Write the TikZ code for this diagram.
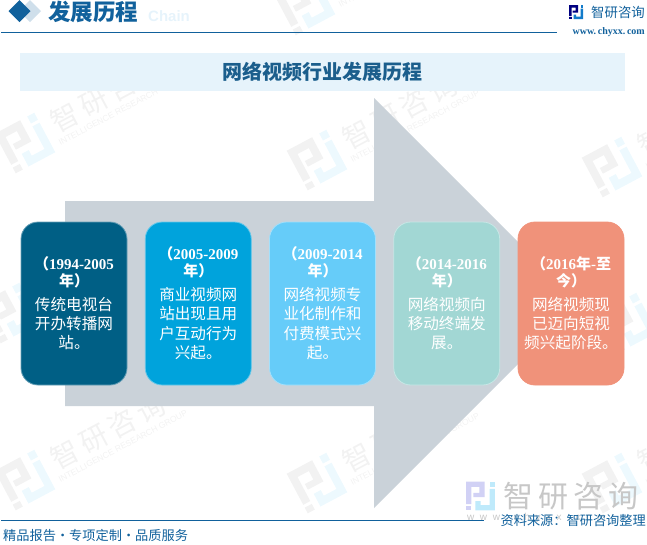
\documentclass[tikz,border=0pt]{standalone}
\usepackage{fontspec}
\usepackage{xcolor}
\setmainfont{Liberation Serif}
\setsansfont{Liberation Sans}
\newfontfamily\cjk{Noto Sans CJK SC}
\definecolor{headblue}{HTML}{11619C}
\definecolor{titleblue}{HTML}{1B5E8C}
\definecolor{bannerblue}{HTML}{E6F3FB}
\definecolor{arrowgrey}{HTML}{CAD2D9}
\definecolor{cardA}{HTML}{005F85}
\definecolor{cardB}{HTML}{00A3DC}
\definecolor{cardC}{HTML}{66CCF9}
\definecolor{cardD}{HTML}{A2D7D4}
\definecolor{cardE}{HTML}{F0927A}
\newcommand{\yearfont}{\fontsize{15}{17}\selectfont\bfseries}
\newcommand{\bodyfont}{\fontsize{15.6}{19.4}\selectfont\mdseries\cjk}
\newcommand{\cn}[1]{{\cjk #1}}
\tikzset{
  pics/logomark/.style 2 args={code={
    \fill[#1] (-7,-7) -- (2,-7) -- (2,0.5) -- (-3.5,0.5) -- (-3.5,-1.5) -- (-0.5,-1.5) -- (-0.5,-4.5) -- (-4.5,-4.5) -- (-4.5,4) -- (-7,4) -- cycle;
    \fill[#1] (-7,5) rectangle (-4.5,7);
    \fill[#2] (4.5,-7) rectangle (7,-4.5);
    \fill[#2] (4.5,-3.5) -- (7,-3.5) -- (7,7) -- (-2.5,7) -- (-2.5,2.5) -- (0,2.5) -- (0,4.5) -- (4.5,4.5) -- cycle;
  }}
}

\begin{document}
\begin{tikzpicture}[x=1pt, y=-1pt, node distance=124.25pt]
        % Define a style for the nodes
        \tikzstyle{card} = [rectangle, rounded corners=17pt, text=white, align=center, text width=95pt, inner sep=5.5pt, minimum height=163pt, line width=0.8pt]
        \tikzstyle{headline} = [text=headblue, inner sep=0pt]

        \useasboundingbox (0,0) rectangle (647,544);

        % Watermarks
        \foreach \wx/\wy in {25/143, 317/160, 612/167, 10/313, 317/320, 627/323, 25/480, 317/483, 612/483, 305/5} {
            \begin{scope}[shift={(\wx,\wy)}, rotate=28, transform shape]
                \pic[scale=3.2] {logomark={black!5}{cyan!7}};
                \node[text=black!5, inner sep=0pt, font=\cjk\fontsize{28}{28}\selectfont] at (96,-4) {智\,研\,咨\,询};
                \node[text=black!5, inner sep=0pt, anchor=west, font=\sffamily\fontsize{8.5}{9}\selectfont] at (30,16) {INTELLIGENCE RESEARCH GROUP};
            \end{scope}
        }

        % Big arrow
        \fill[arrowgrey] (65,201) -- (374,201) -- (374,98) -- (579,303) -- (374,508) -- (374,406) -- (65,406) -- cycle;

        % Cards
        \node (card1) [card, draw=cardA!60!white, fill=cardA, minimum width=106pt] at (74,303.5) {\yearfont\cn{（}1994-2005\\\cn{年）}\\[4pt]\bodyfont 传统电视台\\开办转播网\\站。\par};
        \node (card2) [card, draw=cardB!60!white, fill=cardB, right of=card1] {\yearfont\cn{（}2005-2009\\\cn{年）}\\[4pt]\bodyfont 商业视频网\\站出现且用\\户互动行为\\兴起。\par};
        \node (card3) [card, draw=cardC!60!white, fill=cardC, right of=card2] {\yearfont\cn{（}2009-2014\\\cn{年）}\\[4pt]\bodyfont 网络视频专\\业化制作和\\付费模式兴\\起。\par};
        \node (card4) [card, draw=cardD!60!white, fill=cardD, right of=card3] {\yearfont\cn{（}2014-2016\\\cn{年）}\\[4pt]\bodyfont 网络视频向\\移动终端发\\展。\par};
        \node (card5) [card, draw=cardE, fill=cardE, right of=card4] {\yearfont\cn{（}2016\cn{年}-\cn{至}\\\cn{今）}\\[4pt]\bodyfont 网络视频现\\已迈向短视\\频兴起阶段。\par};

        % Header
        \fill[headblue!20!white] (30,0) -- (41,11) -- (30,22) -- (19,11) -- cycle;
        \fill[headblue] (19.5,0) -- (30.5,11) -- (19.5,22) -- (8.5,11) -- cycle;
        \node (chain) [text=bannerblue, inner sep=0pt, anchor=west, font=\sffamily\bfseries\fontsize{15}{15}\selectfont] at (148,16) {Chain};
        \node (heading) [headline, anchor=west, font=\cjk\bfseries\fontsize{22.5}{23}\selectfont] at (48,12) {发展历程};
        \node (logotext) [headline, anchor=west, font=\cjk\fontsize{13.4}{14}\selectfont] at (591,12) {智研咨询};
        \node (website) [headline, anchor=east, font=\bfseries\fontsize{10}{10}\selectfont] at (645,32) {www.\,chyxx.\,com};
        \pic at (576,12) {logomark={blue!50!black}{cyan!60!blue}};
        \coordinate (topleft) at (1,32.5);
        \coordinate (topright) at (557,32.5);
        \draw[headblue, line width=0.8pt] (topleft) -- (topright);

        % Banner
        \node (banner) [rectangle, fill=bannerblue, minimum width=605pt, minimum height=38pt, inner sep=0pt, text=titleblue, font=\cjk\bfseries\fontsize{20}{20}\selectfont] at (322.5,72) {网络视频行业发展历程};

        % Footer
        \pic[scale=2.05] at (480.5,496) {logomark={black!22!blue!18!white}{cyan!25}};
        \node (biglogo) [text=black!22, inner sep=0pt, anchor=west, font=\cjk\fontsize{30}{30}\selectfont] at (503,496) {智\,研\,咨\,询};
        \node (bigsite) [text=black!22, inner sep=0pt, anchor=west, font=\sffamily\fontsize{10}{10}\selectfont] at (467,518) {w\ \ w\ \ w\ \ .\ \ c\ \ h\ \ y\ \ x\ \ x\ \ .\ \ c\ \ o\ \ m};
        \coordinate (footleft) at (1,520);
        \coordinate (footright) at (484,520);
        \draw[headblue, line width=0.8pt] (footleft) -- (footright);
        \node (slogan) [headline, anchor=west, font=\cjk\fontsize{13.2}{13}\selectfont] at (3,535) {精品报告·专项定制·品质服务};
        \node (source) [headline, anchor=east, font=\cjk\fontsize{13.2}{13}\selectfont] at (646,521) {资料来源：智研咨询整理};
    \end{tikzpicture}
\end{document}
